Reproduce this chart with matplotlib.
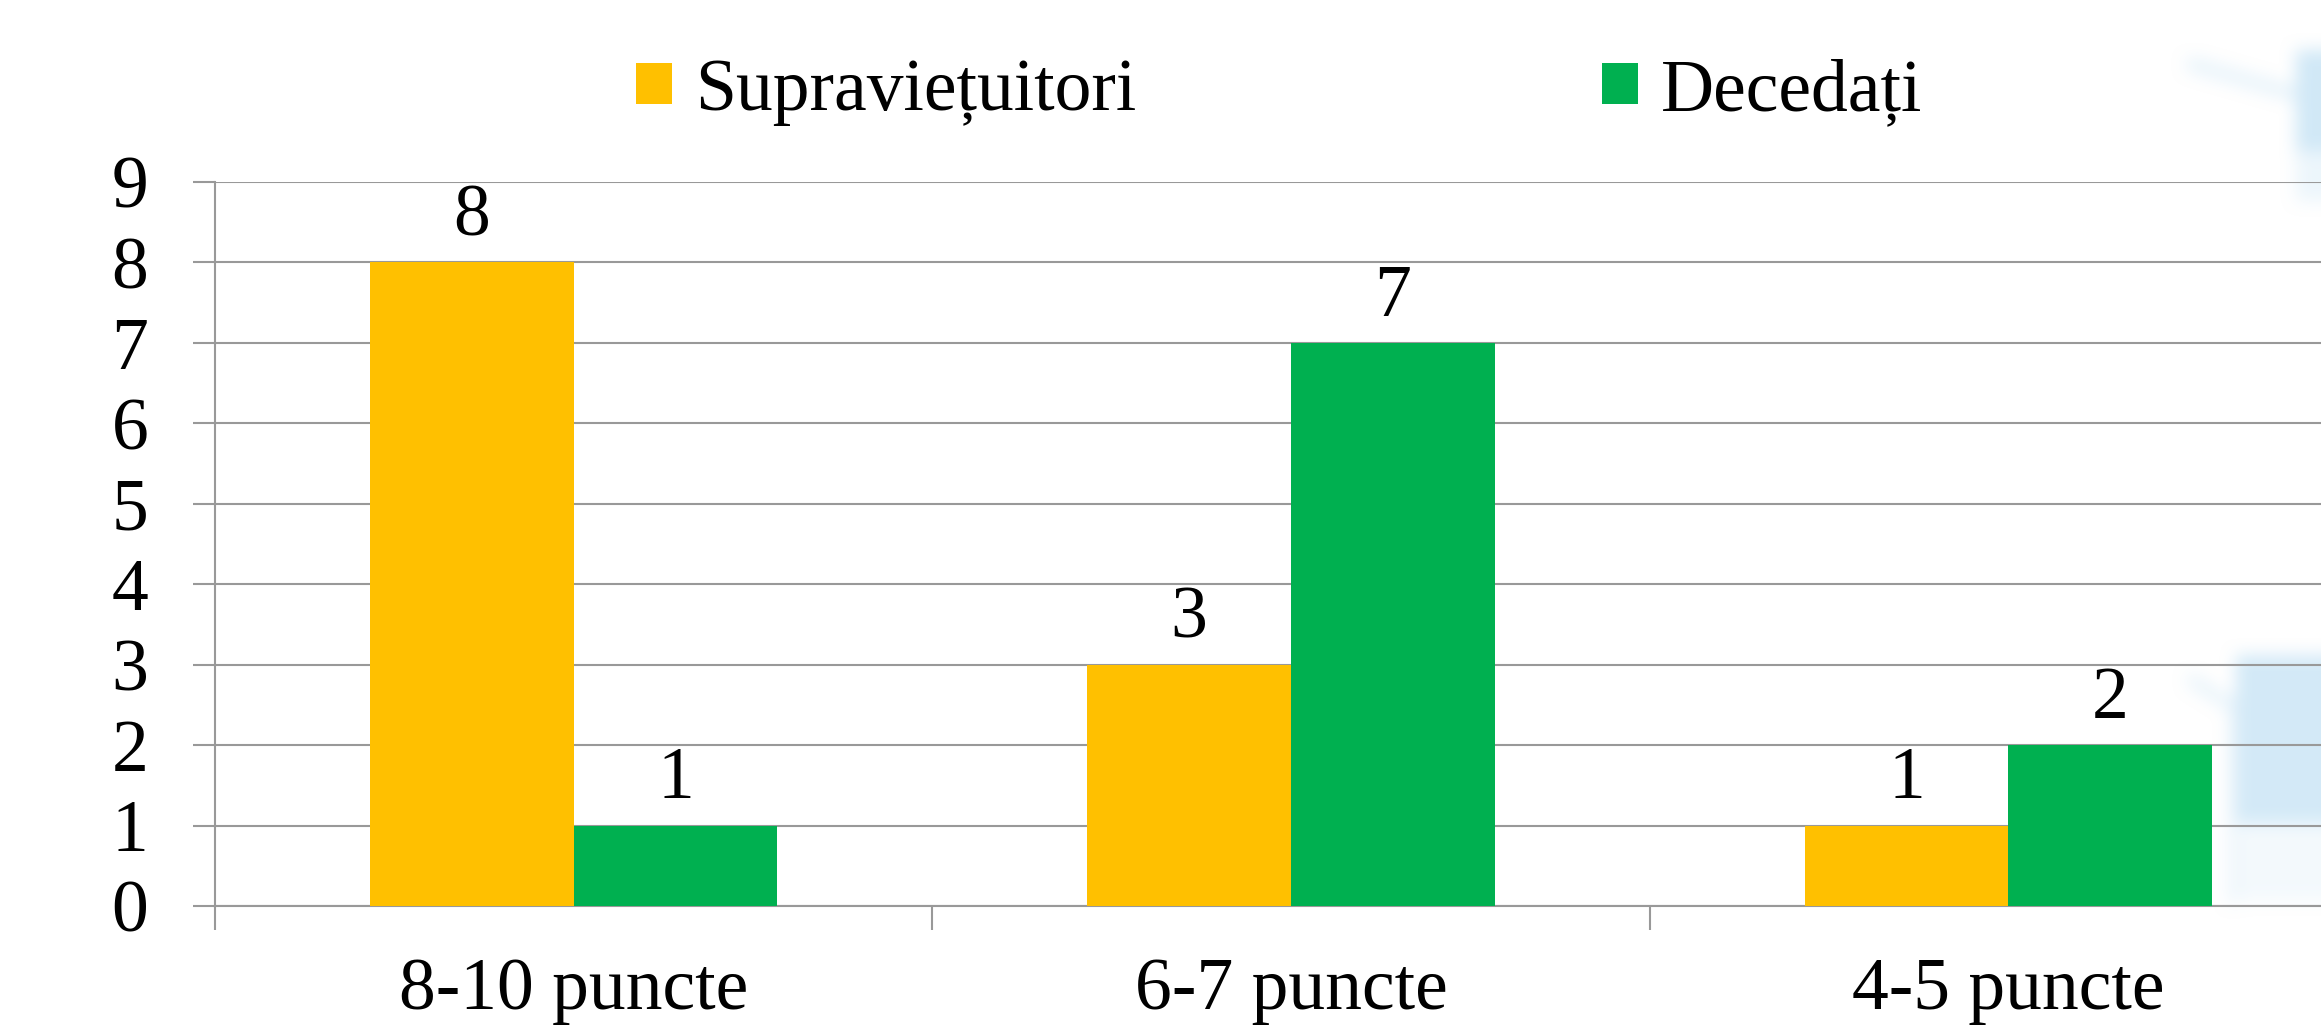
"""
Survivors vs. deceased by score group, grouped bar chart.
"""
import numpy as np
import matplotlib
matplotlib.use("Agg")
import matplotlib.pyplot as plt

categories = ["8-10 puncte", "6-7 puncte", "4-5 puncte"]
survivors = [8, 3, 1]
deceased = [1, 7, 2]
series_names = ["Supraviețuitori", "Decedați"]
y_ticks = list(range(0, 10))

YELLOW = "#FFC000"
GREEN = "#00B050"
GRID = "#999999"
FS = 53

plt.rcParams["font.family"] = ["Liberation Serif", "DejaVu Serif"]

W, H = 2321, 1035
fig = plt.figure(figsize=(W / 100, H / 100), dpi=100)
fig.patch.set_facecolor("white")


def box_blur(a, r):
    k = 2 * r + 1
    for axis in (0, 1):
        p = np.pad(a, [(r, r) if i == axis else (0, 0) for i in range(2)], mode="edge")
        c = np.cumsum(p, axis=axis)
        c = np.insert(c, 0, 0, axis=axis)
        if axis == 0:
            a = (c[k:] - c[:-k]) / k
        else:
            a = (c[:, k:] - c[:, :-k]) / k
    return a


def stroke(px, py, x0, y0, x1, y1, w):
    dx, dy = x1 - x0, y1 - y0
    t = np.clip(((px - x0) * dx + (py - y0) * dy) / (dx * dx + dy * dy), 0, 1)
    d = np.hypot(px - (x0 + t * dx), py - (y0 + t * dy))
    return (d < w).astype(float)


# soft light-blue decoration along the right edge
x_start = 2080
py, px = np.mgrid[0:H, x_start:W].astype(float)
mask = np.zeros_like(px)
mask[(px >= 2296) & (py >= 50) & (py <= 150)] = 1.0
mask[(px >= 2296) & (py > 150) & (py <= 200)] = 0.4
mask = np.maximum(mask, 0.5 * stroke(px, py, 2192, 64, 2296, 94, 7))
mask[(px >= 2236) & (py >= 655) & (py <= 822)] = 0.95
mask[(px >= 2236) & (py > 822) & (py <= 900)] = 0.25
mask = np.maximum(mask, 0.5 * stroke(px, py, 2192, 680, 2236, 708, 6))
mask = np.maximum(mask, 0.4 * stroke(px, py, 2232, 700, 2232, 900, 5))
mask = box_blur(box_blur(mask, 9), 9)
rgba = np.zeros(mask.shape + (4,))
rgba[..., 0], rgba[..., 1], rgba[..., 2] = 0.80, 0.905, 0.965
rgba[..., 3] = np.clip(mask, 0, 1) * 0.9

ax_bg = fig.add_axes([0, 0, 1, 1])
ax_bg.imshow(rgba, extent=(x_start, W, H, 0), aspect="auto", interpolation="bilinear")
ax_bg.set_xlim(0, W)
ax_bg.set_ylim(H, 0)
ax_bg.axis("off")

# plot area runs past the right edge of the canvas
ax = fig.add_axes([215 / W, 1 - 906 / H, (2367 - 215) / W, (906 - 182) / H])
ax.set_facecolor("none")

x = np.arange(len(categories)) + 0.5
w = 0.284
b1 = ax.bar(x - w / 2, survivors, w, color=YELLOW, label=series_names[0], zorder=3)
b2 = ax.bar(x + w / 2, deceased, w, color=GREEN, label=series_names[1], zorder=3)

for bars, vals in ((b1, survivors), (b2, deceased)):
    for rect, v in zip(bars, vals):
        ax.annotate(str(v), (rect.get_x() + rect.get_width() / 2, v),
                    xytext=(0, 8), textcoords="offset points",
                    ha="center", va="bottom", fontsize=FS)

ax.set_xlim(0, len(categories))
ax.set_ylim(0, 9)
ax.set_yticks(y_ticks)
ax.yaxis.grid(True, color=GRID, lw=1.5)
ax.set_axisbelow(True)

ax.set_xticks(np.arange(len(categories) + 1))
ax.set_xticklabels([])
ax.set_xticks(x, minor=True)
ax.set_xticklabels(categories, minor=True)

ax.tick_params(axis="y", length=16, width=1.5, color=GRID, pad=32, labelsize=FS)
ax.tick_params(axis="x", which="major", length=17, width=1.5, color=GRID)
ax.tick_params(axis="x", which="minor", length=0, pad=37, labelsize=FS)

for side in ("top", "right"):
    ax.spines[side].set_visible(False)
for side in ("left", "bottom"):
    ax.spines[side].set_color(GRID)
    ax.spines[side].set_linewidth(1.5)

ax.legend(loc="center", bbox_to_anchor=(1279.5 / W, 1 - 92 / H),
          bbox_transform=fig.transFigure, ncol=2, frameon=False, fontsize=FS,
          handlelength=0.49, handleheight=0.49, handletextpad=0.31,
          columnspacing=6.33, borderpad=0, borderaxespad=0)

fig.savefig("out.png", dpi=100)
